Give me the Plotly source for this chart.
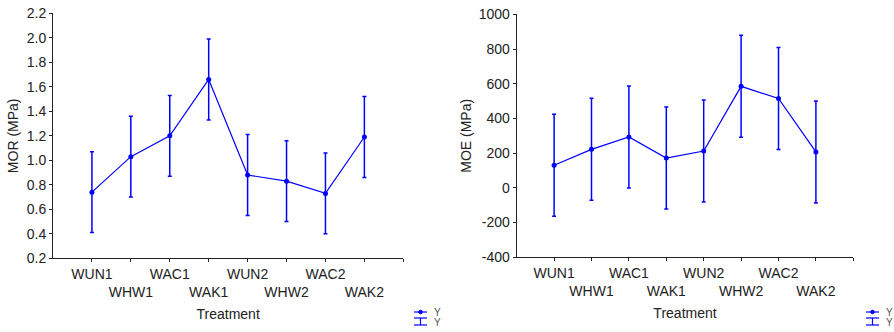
import plotly.graph_objects as go

# Treatment groups and measured means with their error half-widths
treatments = ["WUN1", "WHW1", "WAC1", "WAK1", "WUN2", "WHW2", "WAC2", "WAK2"]
mor_mean = [0.74, 1.03, 1.20, 1.66, 0.88, 0.83, 0.73, 1.19]
mor_err = [0.33, 0.33, 0.33, 0.33, 0.33, 0.33, 0.33, 0.33]
moe_mean = [130, 222, 293, 172, 212, 585, 515, 207]
moe_err = [294, 294, 294, 294, 294, 294, 294, 294]

mor_ticks = [0.2, 0.4, 0.6, 0.8, 1.0, 1.2, 1.4, 1.6, 1.8, 2.0, 2.2]
moe_ticks = [-400, -200, 0, 200, 400, 600, 800, 1000]

W, H = 894, 332
BLUE = "#0000ff"
FONT = "Liberation Sans, Arial, sans-serif"
FS = 14

xpos = list(range(len(treatments)))
# alternate labels onto two rows so they do not collide
ticktext = [t if i % 2 == 0 else "<br>" + t for i, t in enumerate(treatments)] + [""]
tickvals = xpos + [len(treatments)]


def px_x(p):
    return p / W


def px_y(p):
    return 1 - p / H


fig = go.Figure()

for mean, err, xa, ya in [(mor_mean, mor_err, "x", "y"), (moe_mean, moe_err, "x2", "y2")]:
    fig.add_trace(go.Scatter(
        x=xpos, y=mean, xaxis=xa, yaxis=ya,
        mode="lines+markers",
        line=dict(color=BLUE, width=1.2),
        marker=dict(color=BLUE, size=5, symbol="circle"),
        error_y=dict(type="data", array=err, visible=True,
                     color=BLUE, thickness=1.5, width=2),
        showlegend=False, name="Y",
    ))

xaxis_common = dict(
    range=[-1, len(treatments)], tickmode="array", tickvals=tickvals, ticktext=ticktext,
    tickangle=0,
    showline=True, linecolor="#222", linewidth=1, showgrid=False, zeroline=False,
    ticks="outside", ticklen=3, tickcolor="#222",
    tickfont=dict(family=FONT, size=FS, color="#222"),
    title=dict(text="Treatment", font=dict(family=FONT, size=FS, color="#222"), standoff=9),
    automargin=False, fixedrange=True,
)
yaxis_common = dict(
    showline=True, linecolor="#222", linewidth=1, showgrid=False, zeroline=False,
    ticks="outside", ticklen=3, tickcolor="#222",
    tickfont=dict(family=FONT, size=FS, color="#222"),
    automargin=False, fixedrange=True,
)

fig.update_layout(
    width=W, height=H,
    margin=dict(l=0, r=0, t=0, b=0),
    paper_bgcolor="white", plot_bgcolor="white",
    font=dict(family=FONT, size=FS, color="#222"),
    xaxis=dict(xaxis_common, domain=[px_x(53), px_x(403.3)], anchor="y"),
    yaxis=dict(yaxis_common, domain=[px_y(258.3), px_y(13.3)], anchor="x",
               range=[0.2, 2.2], tickmode="array", tickvals=mor_ticks,
               ticktext=[f"{v:.1f}" for v in mor_ticks],
               title=dict(text="MOR (MPa)", font=dict(family=FONT, size=FS, color="#222"), standoff=4)),
    xaxis2=dict(xaxis_common, domain=[px_x(516.7), px_x(853.3)], anchor="y2"),
    yaxis2=dict(yaxis_common, domain=[px_y(257.3), px_y(14.3)], anchor="x2",
                range=[-400, 1000], tickmode="array", tickvals=moe_ticks,
                ticktext=[str(v) for v in moe_ticks],
                title=dict(text="MOE (MPa)", font=dict(family=FONT, size=FS, color="#222"), standoff=3)),
)

# small legend keys under each panel: line-with-point and error-bar symbol
shapes = []
annotations = []
for x0 in (414, 866):
    x1 = x0 + 13
    xc = x0 + 6.5
    shapes += [
        dict(type="line", xref="paper", yref="paper", x0=px_x(x0), x1=px_x(x1),
             y0=px_y(312), y1=px_y(312), line=dict(color=BLUE, width=1.2)),
        dict(type="circle", xref="paper", yref="paper", x0=px_x(xc - 1.8), x1=px_x(xc + 1.8),
             y0=px_y(313.8), y1=px_y(310.2), line=dict(color=BLUE, width=1), fillcolor=BLUE),
        dict(type="line", xref="paper", yref="paper", x0=px_x(x0), x1=px_x(x1),
             y0=px_y(318), y1=px_y(318), line=dict(color=BLUE, width=1.2)),
        dict(type="line", xref="paper", yref="paper", x0=px_x(x0), x1=px_x(x1),
             y0=px_y(325), y1=px_y(325), line=dict(color=BLUE, width=1.2)),
        dict(type="line", xref="paper", yref="paper", x0=px_x(xc), x1=px_x(xc),
             y0=px_y(318), y1=px_y(325), line=dict(color=BLUE, width=1.2)),
    ]
    for yy in (312, 322):
        annotations.append(dict(
            text="Y", xref="paper", yref="paper", x=px_x(x1 + 5), y=px_y(yy),
            xanchor="left", yanchor="middle", showarrow=False,
            font=dict(family=FONT, size=10, color="#555"),
        ))

fig.update_layout(shapes=shapes, annotations=annotations)

fig.write_html("out.html")
